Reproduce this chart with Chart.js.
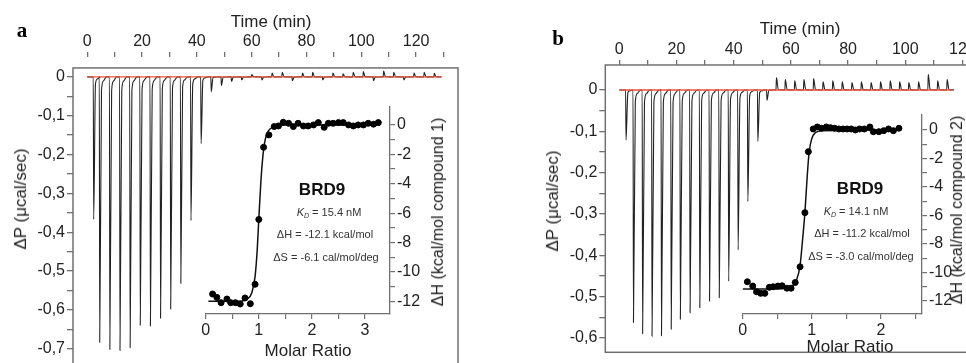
<!DOCTYPE html>
<html>
<head>
<meta charset="utf-8">
<script src="https://cdn.jsdelivr.net/npm/chart.js@4.4.1/dist/chart.umd.min.js"></script>
<style>
  html, body { margin: 0; padding: 0; background: #fff; }
  #wrap { position: relative; width: 966px; height: 363px; overflow: hidden; font-family: "Liberation Sans", Arial, sans-serif; color: #222; }
  canvas { position: absolute; }
  .t { position: absolute; white-space: nowrap; transform: translate(-50%, -50%); }
  .rot { transform: translate(-50%, -50%) rotate(-90deg); }
  .panel { font-family: "Liberation Serif", "Times New Roman", serif; font-weight: bold; font-size: 21px; color: #000; }
  .ann { font-size: 11px; color: #333; }
  .ann sub { font-size: 7px; vertical-align: -2px; }
</style>
</head>
<body>
<div id="wrap">
  <canvas id="mainA" width="470" height="400" style="left:0;top:0"></canvas>
  <canvas id="insetA" width="270" height="260" style="left:190px;top:95px"></canvas>
  <canvas id="mainB" width="500" height="400" style="left:480px;top:0"></canvas>
  <canvas id="insetB" width="265" height="255" style="left:727px;top:100px"></canvas>

  <div class="t panel" style="left:22px;top:30px">a</div>
  <div class="t panel" style="left:558px;top:38px">b</div>

  <div class="t" style="left:271px;top:22px;font-size:17px">Time (min)</div>
  <div class="t" style="left:800px;top:29px;font-size:17px">Time (min)</div>
  <div class="t rot" style="left:21px;top:199px;font-size:17px">ΔP (μcal/sec)</div>
  <div class="t rot" style="left:553px;top:201px;font-size:17px">ΔP (μcal/sec)</div>

  <div class="t" style="left:308px;top:351px;font-size:17px">Molar Ratio</div>
  <div class="t" style="left:850px;top:347px;font-size:17px">Molar Ratio</div>
  <div class="t rot" style="left:438px;top:212px;font-size:16px">ΔH (kcal/mol compound 1)</div>
  <div class="t rot" style="left:957px;top:210px;font-size:16px">ΔH (kcal/mol compound 2)</div>

  <div class="t" style="left:322px;top:190px;font-size:17px;font-weight:bold;color:#111">BRD9</div>
  <div class="t ann" style="left:329px;top:212px"><i>K</i><sub><i>D</i></sub> = 15.4 nM</div>
  <div class="t ann" style="left:325px;top:234px">ΔH = -12.1 kcal/mol</div>
  <div class="t ann" style="left:326px;top:257px">ΔS = -6.1 cal/mol/deg</div>

  <div class="t" style="left:860px;top:189px;font-size:17px;font-weight:bold;color:#111">BRD9</div>
  <div class="t ann" style="left:856px;top:211px"><i>K</i><sub><i>D</i></sub> = 14.1 nM</div>
  <div class="t ann" style="left:862px;top:233px">ΔH = -11.2 kcal/mol</div>
  <div class="t ann" style="left:861px;top:256px">ΔS = -3.0 cal/mol/deg</div>
</div>

<script>
// raw thermogram, panel a: injection times (min) and peak heights (ucal/sec)
const injTimeA = [2.2, 4.4, 8.1, 11.8, 15.5, 19.2, 22.9, 26.6, 30.3, 34.0, 37.7, 41.4, 45.1, 48.8, 52.5,
  56.2, 59.9, 63.6, 67.3, 71.0, 74.7, 78.4, 82.1, 85.8, 89.5, 93.2, 96.9, 100.6, 104.3, 108.0,
  111.7, 115.4, 119.1, 122.8, 126.5];
const injPeakA = [-0.367, -0.684, -0.702, -0.705, -0.698, -0.64, -0.642, -0.622, -0.598, -0.532, -0.37, -0.172,
  -0.038, -0.022, -0.012, -0.008, 0.006, -0.008, 0.01, 0.012, -0.01, 0.01, 0.012, -0.008, 0.01,
  0.008, 0.012, 0.014, -0.01, 0.015, 0.012, -0.008, 0.01, 0.012, 0.009];
const runEndA = 129.3;

// raw thermogram, panel b
const injTimeB = [2.2, 4.8, 8.0, 11.3, 14.6, 18.0, 21.2, 24.6, 28.0, 31.4, 34.8, 38.1, 41.4, 44.8, 48.3,
  51.5, 54.8, 57.9, 61.2, 64.4, 67.8, 71.1, 74.5, 77.8, 81.2, 84.5, 87.9, 91.2, 94.6, 97.9,
  101.1, 104.5, 107.9, 111.2, 114.5];
const injPeakB = [-0.121, -0.563, -0.59, -0.596, -0.595, -0.579, -0.555, -0.539, -0.527, -0.511, -0.503, -0.463,
  -0.387, -0.27, -0.124, -0.025, 0.03, 0.025, 0.022, 0.025, 0.028, 0.02, 0.022, 0.02, 0.018,
  0.02, 0.018, 0.02, 0.022, 0.02, 0.018, 0.02, 0.038, 0.022, 0.025];
const runEndB = 116.3;

// integrated heats, panel a (molar ratio, kcal/mol)
const molarA = [0.13, 0.21, 0.29, 0.40, 0.47, 0.56, 0.65, 0.74, 0.84, 0.93, 1.00, 1.09, 1.19, 1.29, 1.37,
  1.46, 1.56, 1.65, 1.74, 1.84, 1.93, 2.03, 2.12, 2.23, 2.31, 2.40, 2.50, 2.59, 2.69, 2.78,
  2.87, 2.97, 3.06, 3.16, 3.25];
const heatA = [-11.5, -11.73, -12.09, -11.84, -12.09, -12.09, -12.18, -11.77, -12.16, -10.84, -6.43, -1.52, -0.68, -0.11, -0.07,
  0.18, 0.11, -0.11, 0.11, -0.07, -0.07, 0.0, 0.16, -0.16, 0.11, 0.11, 0.16, 0.16, 0.0, -0.07,
  0.0, 0.0, 0.11, 0.05, 0.16];
const fitMolarA = [0.05, 0.6, 0.78, 0.87, 0.93, 0.97, 1.0, 1.04, 1.08, 1.12, 1.18, 1.3, 1.5, 3.28];
const fitHeatA = [-12.0, -12.0, -11.85, -11.4, -10.3, -8.5, -6.4, -3.8, -2.0, -1.0, -0.4, -0.1, 0.0, 0.0];

// integrated heats, panel b
const molarB = [0.067, 0.145, 0.20, 0.26, 0.32, 0.385, 0.44, 0.51, 0.57, 0.64, 0.70, 0.76, 0.83, 0.90, 0.95,
  1.02, 1.08, 1.14, 1.21, 1.27, 1.33, 1.39, 1.45, 1.51, 1.57, 1.63, 1.69, 1.76, 1.84, 1.89,
  1.97, 2.04, 2.11, 2.18, 2.26];
const heatB = [-10.65, -10.95, -11.35, -11.46, -11.46, -11.04, -11.0, -10.95, -10.93, -11.1, -11.1, -10.7, -9.6, -5.8, -1.52,
  0.07, 0.21, 0.12, 0.21, 0.16, 0.12, 0.07, 0.07, 0.07, 0.07, 0.0, 0.07, 0.07, 0.21, -0.12,
  -0.12, -0.05, 0.07, -0.05, 0.12];
const fitMolarB = [0.0, 0.5, 0.7, 0.78, 0.83, 0.87, 0.9, 0.93, 0.96, 1.0, 1.05, 1.15, 2.28];
const fitHeatB = [-11.15, -11.15, -11.0, -10.5, -9.5, -7.5, -5.8, -3.5, -1.6, -0.6, -0.2, -0.05, 0.0];

const AXIS = '#707070';
const INK = '#222';
const RED = '#e8553f';
Chart.defaults.font.family = '"Liberation Sans", Arial, sans-serif';
Chart.defaults.font.size = 16;
Chart.defaults.color = INK;

// one spike per injection: fast deflection and a short return to the baseline
function trace(times, peaks, end) {
  const pts = [{x: 0, y: 0}];
  times.forEach((t, i) => {
    const p = peaks[i];
    pts.push({x: t, y: 0}, {x: t + 0.15, y: p}, {x: t + 0.8, y: p * 0.05},
      {x: t + 1.5, y: p * 0.015}, {x: t + 2.6, y: 0});
  });
  pts.push({x: end, y: 0});
  return pts;
}
const pairs = (xs, ys) => xs.map((x, i) => ({x: x, y: ys[i]}));

const framePlugin = {
  id: 'frame',
  afterDraw(chart, args, opts) {
    const {ctx, chartArea, scales} = chart;
    const top = scales.y.getPixelForValue(opts.top);
    ctx.save();
    ctx.strokeStyle = AXIS;
    ctx.lineWidth = 1.5;
    ctx.strokeRect(chartArea.left, top, chartArea.right - chartArea.left, chartArea.bottom - top);
    ctx.restore();
  }
};

function mainChart(id, o) {
  new Chart(document.getElementById(id), {
    type: 'line',
    data: {
      datasets: [
        {data: [{x: 0, y: 0}, {x: o.end, y: 0}], borderColor: RED, borderWidth: 1.4, pointRadius: 0},
        {data: trace(o.times, o.peaks, o.end), borderColor: INK, borderWidth: 1.1, pointRadius: 0,
          cubicInterpolationMode: 'monotone'}
      ]
    },
    options: {
      responsive: false, animation: false, events: [],
      layout: {padding: o.pad},
      plugins: {legend: {display: false}, tooltip: {enabled: false}, frame: {top: o.frameTop}},
      scales: {
        x: {
          type: 'linear', position: 'top', min: o.xmin, max: o.xmax,
          afterFit: s => { s.height = o.xh; },
          border: {display: false},
          grid: {drawOnChartArea: false, tickLength: 5, color: AXIS, lineWidth: 1.3},
          ticks: {stepSize: 10, includeBounds: false, autoSkip: false, maxRotation: 0, padding: 1,
            callback: v => (Math.round(v) % 20 === 0 ? String(Math.round(v)) : '')}
        },
        y: {
          type: 'linear', min: o.ymin, max: o.ymax,
          afterFit: s => { s.width = o.yw; },
          afterBuildTicks: s => { s.ticks = s.ticks.filter(t => t.value < 0.001); },
          border: {display: false},
          grid: {drawOnChartArea: false, tickLength: 6, color: AXIS, lineWidth: 1.3},
          ticks: {stepSize: 0.05, includeBounds: false, autoSkip: false, padding: 2,
            callback: v => {
              const k = Math.round(v * 100);
              if (k % 10 !== 0) return '';
              return k === 0 ? '0' : (k / 100).toFixed(1).replace('.', ',');
            }}
        }
      }
    },
    plugins: [framePlugin]
  });
}

function insetChart(id, o) {
  new Chart(document.getElementById(id), {
    type: 'scatter',
    data: {
      datasets: [
        {data: pairs(o.mx, o.hy), backgroundColor: '#000', borderColor: '#000', pointRadius: 3, showLine: false},
        {data: pairs(o.fx, o.fy), borderColor: '#111', borderWidth: 1.5, pointRadius: 0, showLine: true,
          cubicInterpolationMode: 'monotone'}
      ]
    },
    options: {
      responsive: false, animation: false, events: [],
      layout: {padding: {left: o.padLeft, top: o.padTop, right: 0, bottom: 0}},
      plugins: {legend: {display: false}, tooltip: {enabled: false}},
      scales: {
        x: {
          type: 'linear', min: 0, max: o.xmax,
          afterFit: s => { s.height = 41; },
          border: {color: AXIS, width: 1.3},
          grid: {drawOnChartArea: false, tickLength: 5, color: AXIS, lineWidth: 1.2},
          ticks: {stepSize: 0.5, includeBounds: false, autoSkip: false, maxRotation: 0, padding: 2,
            callback: v => (Math.abs(v - Math.round(v)) < 1e-6 ? String(Math.round(v)) : '')}
        },
        y: {
          type: 'linear', position: 'right', min: o.ymin, max: o.ymax,
          afterFit: s => { s.width = 70; },
          afterBuildTicks: s => { s.ticks = s.ticks.filter(t => t.value < 0.001); },
          border: {color: AXIS, width: 1.3},
          grid: {drawOnChartArea: false, tickLength: 5, color: AXIS, lineWidth: 1.2},
          ticks: {stepSize: 1, includeBounds: false, autoSkip: false, padding: 2,
            callback: v => (Math.round(v) % 2 === 0 ? String(Math.round(v)) : '')}
        }
      }
    }
  });
}

mainChart('mainA', {times: injTimeA, peaks: injPeakA, end: runEndA,
  xmin: -5.2, xmax: 135.3, ymin: -0.8026, ymax: 0.0513, frameTop: 0.0231,
  xh: 57, yw: 73, pad: {left: 0, right: 12, top: 0, bottom: 10}});
mainChart('mainB', {times: injTimeB, peaks: injPeakB, end: runEndB,
  xmin: -4.9, xmax: 124.4, ymin: -0.635, ymax: 0.0605, frameTop: 0.0605,
  xh: 65, yw: 125.3, pad: {left: 0, right: 5, top: 0, bottom: 47.7}});

insetChart('insetA', {mx: molarA, hy: heatA, fx: fitMolarA, fy: fitHeatA,
  xmax: 3.47, ymin: -12.86, ymax: 1.22, padLeft: 15.7, padTop: 12});
insetChart('insetB', {mx: molarB, hy: heatB, fx: fitMolarB, fy: fitHeatB,
  xmax: 2.594, ymin: -12.91, ymax: 1.05, padLeft: 15.7, padTop: 15});
</script>
</body>
</html>
